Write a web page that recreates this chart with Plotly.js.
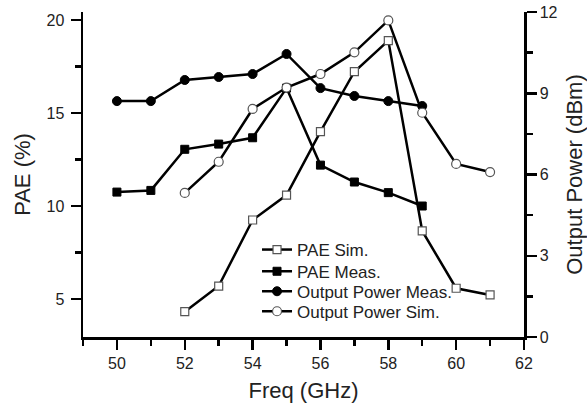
<!DOCTYPE html>
<html>
<head>
<meta charset="utf-8">
<script src="https://cdn.plot.ly/plotly-3.0.1.min.js"></script>
<style>html,body{margin:0;padding:0;background:#fff;}#chart{width:587px;height:406px;}</style>
</head>
<body>
<div id="chart"></div>
<script>
// Data
const freqAll = [50, 51, 52, 53, 54, 55, 56, 57, 58, 59];
const freqSim = [52, 53, 54, 55, 56, 57, 58, 59, 60, 61];

const paeSim = [4.32, 5.70, 9.25, 10.59, 14.0, 17.22, 18.89, 8.66, 5.58, 5.22];
const paeMeas = [10.75, 10.84, 13.05, 13.33, 13.67, 16.34, 12.20, 11.29, 10.72, 10.0];
const poutMeas = [8.71, 8.71, 9.49, 9.60, 9.71, 10.45, 9.19, 8.90, 8.71, 8.53];
const poutSim = [5.32, 6.47, 8.42, 9.21, 9.71, 10.51, 11.69, 8.28, 6.39, 6.09];

const seriesNames = ["PAE Sim.", "PAE Meas.", "Output Power Meas.", "Output Power Sim."];

const FONT = "Liberation Sans, Arial, Helvetica, sans-serif";
const lineStyle = {color: "#000", width: 2.5};

const traces = [
  {x: freqSim, y: paeSim, name: seriesNames[0], yaxis: "y", legend: "legend", mode: "lines+markers",
   line: lineStyle, marker: {symbol: "square", size: 8, color: "#fff", line: {color: "#555", width: 1.2}}},
  {x: freqAll, y: paeMeas, name: seriesNames[1], yaxis: "y", legend: "legend2", mode: "lines+markers",
   line: lineStyle, marker: {symbol: "square", size: 8, color: "#000", line: {color: "#000", width: 1}}},
  {x: freqAll, y: poutMeas, name: seriesNames[2], yaxis: "y2", legend: "legend3", mode: "lines+markers",
   line: lineStyle, marker: {symbol: "circle", size: 9, color: "#000", line: {color: "#000", width: 1}}},
  {x: freqSim, y: poutSim, name: seriesNames[3], yaxis: "y2", legend: "legend4", mode: "lines+markers",
   line: lineStyle, marker: {symbol: "circle", size: 9, color: "#fff", line: {color: "#555", width: 1.2}}}
];

const axisCommon = {
  showline: true, linecolor: "#000", linewidth: 2.5,
  ticks: "outside", ticklen: 10, tickwidth: 2.5, tickcolor: "#000",
  showgrid: false, zeroline: false,
  tickfont: {family: FONT, size: 16, color: "#222"}
};

function legendAt(yc) {
  return {x: 0.3946, y: yc, xanchor: "left", yanchor: "middle",
          bgcolor: "rgba(0,0,0,0)", borderwidth: 0,
          font: {family: FONT, size: 17, color: "#222"}};
}

const layout = {
  width: 587, height: 406,
  margin: {l: 83, r: 63, t: 12, b: 69},
  paper_bgcolor: "#fff", plot_bgcolor: "#fff",
  font: {family: FONT, color: "#222"},
  showlegend: true,
  legend: legendAt(0.2677),
  legend2: legendAt(0.2009),
  legend3: legendAt(0.1394),
  legend4: legendAt(0.0778),
  xaxis: Object.assign({}, axisCommon, {
    range: [49, 62], tickmode: "array", tickvals: [50, 52, 54, 56, 58, 60, 62],
    minor: {tickvals: [49, 51, 53, 55, 57, 59, 61], ticklen: 6, tickwidth: 2.5, tickcolor: "#000", ticks: "outside"},
    title: {text: "Freq (GHz)", font: {family: FONT, size: 22, color: "#222"}, standoff: 12}
  }),
  yaxis: Object.assign({}, axisCommon, {
    range: [2.96, 20.43], tickmode: "array", tickvals: [5, 10, 15, 20],
    ticklabelstandoff: 3,
    minor: {tickvals: [7.5, 12.5, 17.5], ticklen: 6, tickwidth: 2.5, tickcolor: "#000", ticks: "outside"},
    title: {text: "PAE (%)", font: {family: FONT, size: 22, color: "#222"}, standoff: 10}
  }),
  yaxis2: Object.assign({}, axisCommon, {
    overlaying: "y", side: "right", range: [0, 12], tickmode: "array", tickvals: [0, 3, 6, 9, 12],
    minor: {tickvals: [1.5, 4.5, 7.5, 10.5], ticklen: 6, tickwidth: 2.5, tickcolor: "#000", ticks: "outside"},
    title: {text: "Output Power (dBm)", font: {family: FONT, size: 22, color: "#222"}, standoff: 10}
  })
};

Plotly.newPlot("chart", traces, layout, {displayModeBar: false, staticPlot: true});
</script>
</body>
</html>
